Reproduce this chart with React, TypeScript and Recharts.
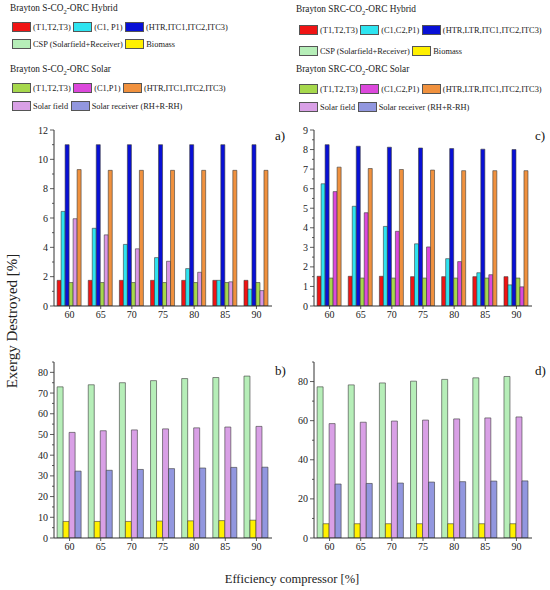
import React from 'react';
import { BarChart, Bar, XAxis, YAxis } from 'recharts';

const FONT = '"Liberation Serif", "Times New Roman", serif';

// compressor efficiency categories
const efficiency = ['60', '65', '70', '75', '80', '85', '90'];

// a) Brayton S-CO2-ORC, hybrid vs solar
const aHybTurb = [1.75, 1.75, 1.75, 1.75, 1.75, 1.75, 1.75];
const aHybComp = [6.45, 5.3, 4.2, 3.3, 2.55, 1.75, 1.15];
const aHybHx = [11, 11, 11, 11, 11, 11, 11];
const aSolTurb = [1.6, 1.6, 1.6, 1.6, 1.6, 1.6, 1.6];
const aSolComp = [5.95, 4.85, 3.9, 3.05, 2.3, 1.65, 1.05];
const aSolHx = [9.3, 9.25, 9.25, 9.25, 9.25, 9.25, 9.25];

// c) Brayton SRC-CO2-ORC, hybrid vs solar
const cHybTurb = [1.52, 1.52, 1.52, 1.5, 1.5, 1.5, 1.5];
const cHybComp = [6.25, 5.1, 4.07, 3.18, 2.42, 1.7, 1.08];
const cHybHx = [8.25, 8.17, 8.12, 8.08, 8.05, 8.02, 8.0];
const cSolTurb = [1.43, 1.43, 1.43, 1.43, 1.43, 1.43, 1.43];
const cSolComp = [5.85, 4.77, 3.82, 3.02, 2.27, 1.6, 0.98];
const cSolHx = [7.1, 7.03, 6.98, 6.95, 6.92, 6.92, 6.92];

// b) S-CO2 heat sources
const bCsp = [73, 74, 75, 76, 77, 77.5, 78.2];
const bBiomass = [8, 8, 8, 8.2, 8.3, 8.4, 8.6];
const bField = [51, 51.8, 52.2, 52.7, 53.2, 53.6, 53.9];
const bReceiver = [32.3, 32.7, 33.1, 33.5, 33.8, 34.1, 34.2];

// d) SRC-CO2 heat sources
const dCsp = [77.3, 78.3, 79.3, 80.2, 81.1, 81.9, 82.6];
const dBiomass = [7.3, 7.3, 7.3, 7.3, 7.3, 7.3, 7.3];
const dField = [58.5, 59.2, 59.8, 60.3, 60.9, 61.4, 61.9];
const dReceiver = [27.6, 27.9, 28.1, 28.6, 28.8, 29.1, 29.2];

// y ticks (major + minor)
const aTicks = [0, 1, 2, 3, 4, 5, 6, 7, 8, 9, 10, 11, 12];
const cTicks = [0, 0.5, 1, 1.5, 2, 2.5, 3, 3.5, 4, 4.5, 5, 5.5, 6, 6.5, 7, 7.5, 8, 8.5, 9];
const bTicks = [0, 5, 10, 15, 20, 25, 30, 35, 40, 45, 50, 55, 60, 65, 70, 75, 80, 85];
const dTicks = [0, 10, 20, 30, 40, 50, 60, 70, 80, 90];

// legend labels
const leftHybridLabels = ['(T1,T2,T3)', '(C1, P1)', '(HTR,ITC1,ITC2,ITC3)'];
const leftSolarLabels = ['(T1,T2,T3)', '(C1,P1)', '(HTR,ITC1,ITC2,ITC3)'];
const rightHybridLabels = ['(T1,T2,T3)', '(C1,C2,P1)', '(HTR,LTR,ITC1,ITC2,ITC3)'];
const rightSolarLabels = ['(T1,T2,T3)', '(C1,C2,P1)', '(HTR,LTR,ITC1,ITC2,ITC3)'];
const sourceLabels = ['CSP (Solarfield+Receiver)', 'Biomass'];
const solarSourceLabels = ['Solar field', 'Solar receiver (RH+R-RH)'];

const C = {
  red: '#f01414',
  cyan: '#2ee4f0',
  blue: '#0810d6',
  green: '#a6d84c',
  violet: '#da96e4',
  magenta: '#dc48dc',
  orange: '#f0913e',
  csp: '#b6eeb8',
  yellow: '#fff000',
  field: '#d9a0e6',
  receiver: '#9297df',
};

type Series = { key: string; values: number[]; color: string };

const buildRows = (series: Series[]) =>
  efficiency.map((eff, i) => {
    const row: Record<string, any> = { eff };
    series.forEach((s) => (row[s.key] = s.values[i]));
    return row;
  });

const YTick = (props: any) => {
  const { x, y, payload, major } = props;
  const isMajor = major(payload.value);
  return (
    <g>
      <line x1={x} x2={x - (isMajor ? 4 : 2)} y1={y} y2={y} stroke="#333" strokeWidth={0.8} />
      {isMajor && (
        <text x={x - 6} y={y} dy={3.5} textAnchor="end" fontSize={10} fill="#222" fontFamily={FONT}>
          {payload.value}
        </text>
      )}
    </g>
  );
};

const XTick = (props: any) => {
  const { x, y, payload } = props;
  return (
    <g>
      <line x1={x} x2={x} y1={y} y2={y + 3} stroke="#333" strokeWidth={0.8} />
      <text x={x} y={y + 12} textAnchor="middle" fontSize={10} fill="#222" fontFamily={FONT}>
        {payload.value}
      </text>
    </g>
  );
};

type PanelProps = {
  left: number;
  top: number;
  series: Series[];
  domain: [number, number];
  ticks: number[];
  isMajor: (v: number) => boolean;
};

const Panel = ({ left, top, series, domain, ticks, isMajor }: PanelProps) => (
  <div style={{ position: 'absolute', left, top }}>
    <BarChart
      width={290}
      height={210}
      data={buildRows(series)}
      margin={{ top: 10, right: 18, left: 24, bottom: 4 }}
      barCategoryGap="10%"
      barGap={0}
    >
      <XAxis
        dataKey="eff"
        height={20}
        interval={0}
        tickSize={0}
        tickMargin={0}
        tickLine={false}
        axisLine={{ stroke: '#333' }}
        tick={<XTick />}
      />
      <XAxis xAxisId="top" dataKey="eff" orientation="top" height={0} tick={false} tickLine={false} axisLine={{ stroke: '#333' }} />
      <YAxis
        width={30}
        domain={domain}
        ticks={ticks}
        interval={0}
        allowDataOverflow
        tickSize={0}
        tickMargin={0}
        tickLine={false}
        axisLine={{ stroke: '#333' }}
        tick={<YTick major={isMajor} />}
      />
      <YAxis yAxisId="right" orientation="right" width={0} tick={false} tickLine={false} axisLine={{ stroke: '#333' }} />
      {series.map((s) => (
        <Bar key={s.key} dataKey={s.key} fill={s.color} stroke="#3a3a3a" strokeWidth={0.6} isAnimationActive={false} />
      ))}
    </BarChart>
  </div>
);

const Swatch = ({ color }: { color: string }) => (
  <span style={{ display: 'inline-block', width: 17, height: 8, background: color, border: '0.6px solid #555', marginRight: 2 }} />
);

type RowProps = { top: number; left: number; items: { label: string; color: string }[] };

const LegendRow = ({ top, left, items }: RowProps) => (
  <div style={{ position: 'absolute', top, left, display: 'flex', alignItems: 'center', whiteSpace: 'nowrap', fontSize: 8.4, color: '#222' }}>
    {items.map((it) => (
      <span key={it.label} style={{ display: 'flex', alignItems: 'center', marginRight: 2.5, flexShrink: 0 }}>
        <Swatch color={it.color} />
        {it.label}
      </span>
    ))}
  </div>
);

const Title = ({ top, left, scheme, kind }: { top: number; left: number; scheme: string; kind: string }) => (
  <div style={{ position: 'absolute', top, left, fontSize: 9.3, color: '#222', whiteSpace: 'nowrap' }}>
    Brayton {scheme}-CO<sub style={{ fontSize: 6.5 }}>2</sub>-ORC {kind}
  </div>
);

const Tag = ({ left, top, text }: { left: number; top: number; text: string }) => (
  <div style={{ position: 'absolute', left, top, fontSize: 13, color: '#111' }}>{text}</div>
);

const hybridColors = [C.red, C.cyan, C.blue];
const solarColors = [C.green, C.magenta, C.orange];

export default function App() {
  return (
    <div
      style={{
        position: 'absolute',
        left: 0,
        top: 0,
        width: 550,
        height: 590,
        background: '#fff',
        overflow: 'hidden',
        fontFamily: FONT,
      }}
    >
      {/* left legend */}
      <Title top={3} left={10} scheme="S" kind="Hybrid" />
      <LegendRow top={22} left={12} items={leftHybridLabels.map((l, i) => ({ label: l, color: hybridColors[i] }))} />
      <LegendRow top={39} left={12} items={sourceLabels.map((l, i) => ({ label: l, color: i === 0 ? C.csp : C.yellow }))} />
      <Title top={64} left={10} scheme="S" kind="Solar" />
      <LegendRow top={83} left={12} items={leftSolarLabels.map((l, i) => ({ label: l, color: solarColors[i] }))} />
      <LegendRow top={101} left={12} items={solarSourceLabels.map((l, i) => ({ label: l, color: i === 0 ? C.field : C.receiver }))} />

      {/* right legend */}
      <Title top={4} left={296} scheme="SRC" kind="Hybrid" />
      <LegendRow top={25} left={299} items={rightHybridLabels.map((l, i) => ({ label: l, color: hybridColors[i] }))} />
      <LegendRow top={46} left={299} items={sourceLabels.map((l, i) => ({ label: l, color: i === 0 ? C.csp : C.yellow }))} />
      <Title top={64} left={296} scheme="SRC" kind="Solar" />
      <LegendRow top={84} left={299} items={rightSolarLabels.map((l, i) => ({ label: l, color: solarColors[i] }))} />
      <LegendRow top={102} left={299} items={solarSourceLabels.map((l, i) => ({ label: l, color: i === 0 ? C.field : C.receiver }))} />

      <Panel
        left={0}
        top={120}
        domain={[0, 12]}
        ticks={aTicks}
        isMajor={(v) => v % 2 === 0}
        series={[
          { key: 'hybTurb', values: aHybTurb, color: C.red },
          { key: 'hybComp', values: aHybComp, color: C.cyan },
          { key: 'hybHx', values: aHybHx, color: C.blue },
          { key: 'solTurb', values: aSolTurb, color: C.green },
          { key: 'solComp', values: aSolComp, color: C.violet },
          { key: 'solHx', values: aSolHx, color: C.orange },
        ]}
      />
      <Panel
        left={260}
        top={120}
        domain={[0, 9]}
        ticks={cTicks}
        isMajor={(v) => Number.isInteger(v)}
        series={[
          { key: 'hybTurb', values: cHybTurb, color: C.red },
          { key: 'hybComp', values: cHybComp, color: C.cyan },
          { key: 'hybHx', values: cHybHx, color: C.blue },
          { key: 'solTurb', values: cSolTurb, color: C.green },
          { key: 'solComp', values: cSolComp, color: C.magenta },
          { key: 'solHx', values: cSolHx, color: C.orange },
        ]}
      />
      <Panel
        left={0}
        top={352}
        domain={[0, 85]}
        ticks={bTicks}
        isMajor={(v) => v % 10 === 0}
        series={[
          { key: 'csp', values: bCsp, color: C.csp },
          { key: 'biomass', values: bBiomass, color: C.yellow },
          { key: 'field', values: bField, color: C.field },
          { key: 'receiver', values: bReceiver, color: C.receiver },
        ]}
      />
      <Panel
        left={260}
        top={352}
        domain={[0, 90]}
        ticks={dTicks}
        isMajor={(v) => v % 20 === 0}
        series={[
          { key: 'csp', values: dCsp, color: C.csp },
          { key: 'biomass', values: dBiomass, color: C.yellow },
          { key: 'field', values: dField, color: C.field },
          { key: 'receiver', values: dReceiver, color: C.receiver },
        ]}
      />

      <Tag left={275} top={128} text="a)" />
      <Tag left={535} top={128} text="c)" />
      <Tag left={275} top={363} text="b)" />
      <Tag left={535} top={363} text="d)" />

      <div
        style={{
          position: 'absolute',
          left: 12,
          top: 321,
          fontSize: 15,
          color: '#222',
          whiteSpace: 'nowrap',
          transform: 'translate(-50%, -50%) rotate(-90deg)',
        }}
      >
        Exergy Destroyed [%]
      </div>
      <div
        style={{
          position: 'absolute',
          left: 292,
          top: 579,
          fontSize: 12.5,
          color: '#222',
          whiteSpace: 'nowrap',
          transform: 'translate(-50%, -50%)',
        }}
      >
        Efficiency compressor [%]
      </div>
    </div>
  );
}
